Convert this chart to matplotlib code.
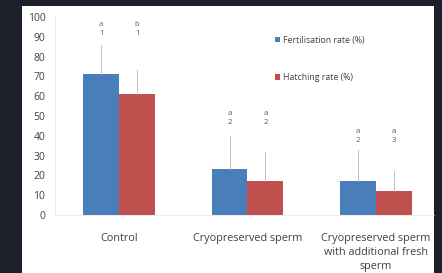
import numpy as np
import matplotlib.pyplot as plt
from matplotlib.patches import Rectangle

plt.rcParams['font.family'] = ['Open Sans', 'DejaVu Sans']

categories = ["Control", "Cryopreserved sperm", "Cryopreserved sperm\nwith additional fresh\nsperm"]
fert = [71, 23, 17]
hatch = [61, 17, 12]
fert_err = [15, 17, 16]
hatch_err = [12, 15, 10]
fert_lbl = ["a\n1", "a\n2", "a\n2"]
hatch_lbl = ["b\n1", "a\n2", "a\n3"]
lbl_y = [90, 45, 36]

blue = "#4a7ebb"
red = "#c0504d"

fig = plt.figure(figsize=(4.42, 2.73), dpi=100, facecolor="#1c202b")
fig.patches.append(Rectangle((22/442, 0), (434-22)/442, (273-6)/273,
                             transform=fig.transFigure, facecolor="white",
                             edgecolor="none", zorder=-10))
ax = fig.add_axes([55/442, (273-215)/273, 385/442, 198/273])
ax.set_facecolor("none")

x = np.arange(len(categories))
w = 0.28
ax.bar(x - w/2, fert, w, color=blue, label="Fertilisation rate (%)")
ax.bar(x + w/2, hatch, w, color=red, label="Hatching rate (%)")

for xi, v, e, t, ly in zip(x - w/2, fert, fert_err, fert_lbl, lbl_y):
    ax.plot([xi, xi], [v, v + e], color="#b5b5b5", lw=0.6)
    ax.text(xi, ly, t, ha="center", va="bottom", fontsize=5.5,
            color="#595959", linespacing=1.3)
for xi, v, e, t, ly in zip(x + w/2, hatch, hatch_err, hatch_lbl, lbl_y):
    ax.plot([xi, xi], [v, v + e], color="#b5b5b5", lw=0.6)
    ax.text(xi, ly, t, ha="center", va="bottom", fontsize=5.5,
            color="#595959", linespacing=1.3)

ax.set_xlim(-0.5, 2.5)
ax.set_ylim(0, 100)
ax.set_yticks(np.arange(0, 101, 10))
ax.set_xticks(x)
ax.set_xticklabels(categories, fontsize=7.8, color="#404040", linespacing=1.4)
ax.tick_params(axis="y", labelsize=7.5, labelcolor="#404040", length=0, pad=7)
ax.tick_params(axis="x", length=0, pad=13)
for s in ["top", "right"]:
    ax.spines[s].set_visible(False)
for s in ["left", "bottom"]:
    ax.spines[s].set_color("#e6e6e6")
    ax.spines[s].set_linewidth(0.5)
ax.spines["bottom"].set_bounds(-0.5, 2.45)

ax.legend(loc="upper left", bbox_to_anchor=(0.55, 0.945), frameon=False,
          fontsize=6.3, labelcolor="#404040", handlelength=0.6, handleheight=0.6,
          handletextpad=0.35, labelspacing=3.25)

fig.savefig("out.png", dpi=100, facecolor=fig.get_facecolor())
